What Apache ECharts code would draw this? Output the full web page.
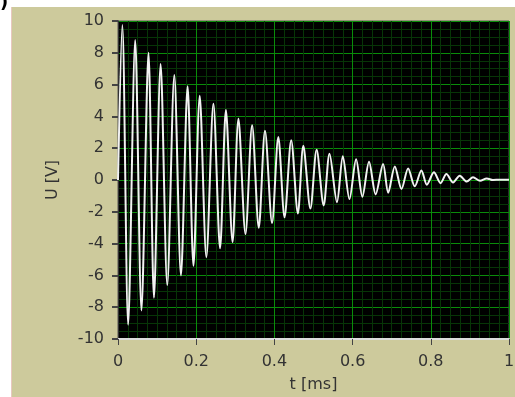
<!DOCTYPE html>
<html>
<head>
<meta charset="utf-8">
<script src="https://cdn.jsdelivr.net/npm/echarts@6/dist/echarts.min.js"></script>
<style>
  html, body { margin: 0; padding: 0; background: #fff; }
  #chart { width: 515px; height: 397px; }
</style>
</head>
<body>
<div id="chart"></div>
<script>
// time of each extremum [ms]
const times = [
  0, 0.011, 0.026, 0.044, 0.060, 0.078, 0.092, 0.109, 0.126, 0.144,
  0.161, 0.178, 0.193, 0.209, 0.226, 0.244, 0.261, 0.276, 0.293, 0.308,
  0.326, 0.343, 0.360, 0.376, 0.394, 0.410, 0.426, 0.443, 0.460, 0.474,
  0.492, 0.508, 0.526, 0.541, 0.560, 0.575, 0.592, 0.609, 0.625, 0.642,
  0.659, 0.678, 0.691, 0.708, 0.725, 0.742, 0.759, 0.776, 0.790, 0.808,
  0.825, 0.840, 0.857, 0.874, 0.892, 0.908, 0.926, 0.943, 0.959, 0.977, 1.0
]
// voltage at those points [V]
const volts = [
  0, 9.75, -9.1, 8.8, -8.2, 8.0, -7.4, 7.3, -6.6, 6.6,
  -6.0, 5.9, -5.4, 5.3, -4.85, 4.8, -4.3, 4.4, -3.9, 3.85,
  -3.4, 3.45, -3.0, 3.1, -2.7, 2.7, -2.35, 2.5, -2.1, 2.15,
  -1.8, 1.9, -1.6, 1.65, -1.4, 1.5, -1.2, 1.3, -1.05, 1.15,
  -0.9, 1.0, -0.8, 0.85, -0.57, 0.73, -0.4, 0.6, -0.3, 0.48,
  -0.2, 0.38, -0.15, 0.27, -0.1, 0.17, -0.05, 0.1, 0.0, 0.02, 0.02
]
const xTicks = [0, 0.2, 0.4, 0.6, 0.8, 1]
const yTicks = [-10, -8, -6, -4, -2, 0, 2, 4, 6, 8, 10]

const chart = echarts.init(document.getElementById('chart'))
const font = { fontFamily: 'DejaVu Sans', fontSize: 16, color: '#333' }

const option = {
  backgroundColor: '#fff',
  animation: false,
  graphic: [
    { type: 'rect', z: -10, shape: { x: 12, y: 7, width: 503, height: 390 }, style: { fill: '#cdca9c' } },
    { type: 'rect', z: -9, shape: { x: 11, y: 7, width: 1, height: 390 }, style: { fill: '#e8c8c0' } },
    { type: 'text', left: 0, top: -6, style: { text: ')', font: 'bold 18px DejaVu Sans', fill: '#000' } }
  ],
  grid: {
    left: 118, right: 6, top: 21, bottom: 58,
    outerBoundsMode: 'none', containLabel: false,
    show: true, backgroundColor: '#000', borderColor: '#555', borderWidth: 1
  },
  xAxis: {
    type: 'value', min: xTicks[0], max: xTicks[xTicks.length - 1], interval: 0.2,
    name: 't [ms]', nameLocation: 'middle', nameGap: 38,
    nameTextStyle: font,
    axisLine: { show: true, onZero: false, lineStyle: { color: '#ddd', width: 2 } },
    axisTick: { show: true, length: 6, lineStyle: { color: '#444' } },
    axisLabel: Object.assign({ margin: 15 }, font),
    splitLine: { show: true, lineStyle: { color: '#0a8c0a', width: 1 } },
    minorTick: { show: false, splitNumber: 8 },
    minorSplitLine: { show: true, lineStyle: { color: '#073507', width: 1 } }
  },
  yAxis: {
    type: 'value', min: yTicks[0], max: yTicks[yTicks.length - 1], interval: 2,
    name: 'U [V]', nameLocation: 'middle', nameGap: 57,
    nameTextStyle: font,
    axisLine: { show: true, lineStyle: { color: '#333', width: 1 } },
    axisTick: { show: true, length: 6, lineStyle: { color: '#444', width: 2 } },
    axisLabel: Object.assign({ margin: 14 }, font),
    splitLine: { show: true, lineStyle: { color: '#0a8c0a', width: 1 } },
    minorTick: { show: false, splitNumber: 4 },
    minorSplitLine: { show: true, lineStyle: { color: '#073507', width: 1 } }
  },
  series: [{
    type: 'line',
    data: times.map((t, i) => [t, volts[i]]),
    showSymbol: false,
    smooth: 0.3,
    lineStyle: { color: '#f2f2f2', width: 2 }
  }]
}
chart.setOption(option)
</script>
</body>
</html>
